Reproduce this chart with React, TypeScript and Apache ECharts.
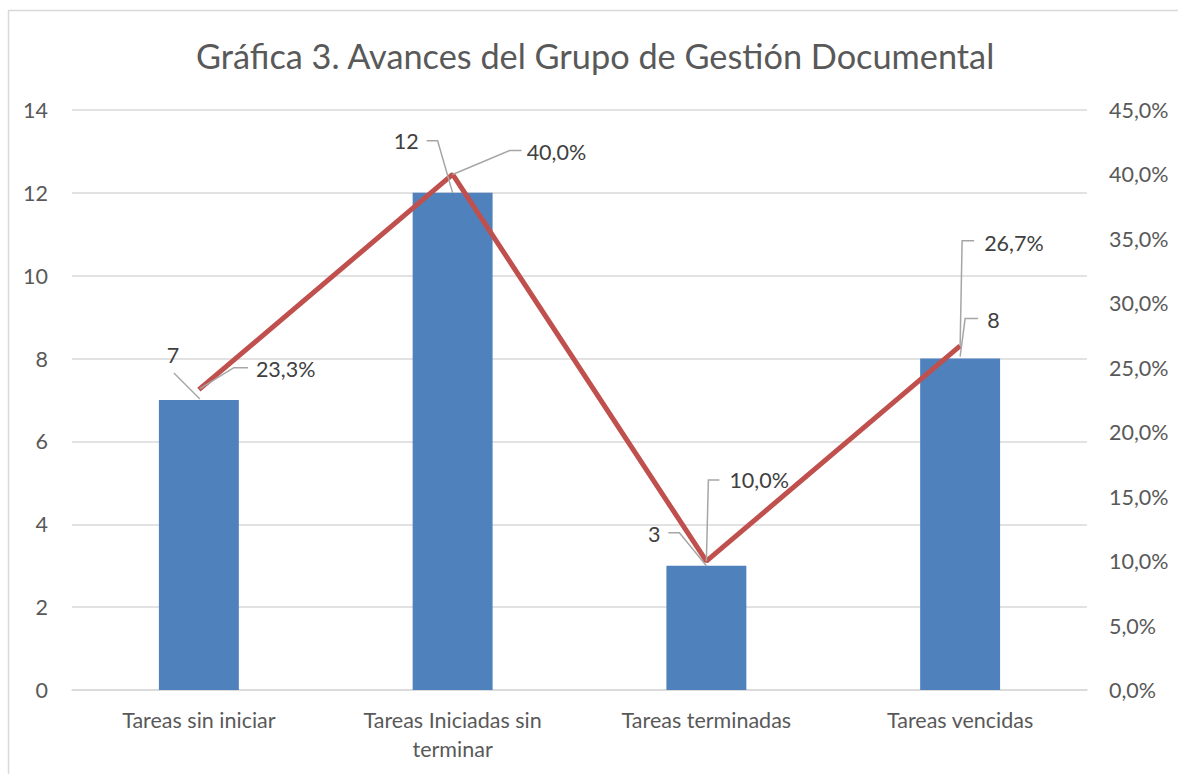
import React, { useEffect, useRef } from "react";
import * as echarts from "echarts";

const categories = [
  "Tareas sin iniciar",
  "Tareas Iniciadas sin\nterminar",
  "Tareas terminadas",
  "Tareas vencidas",
];
const taskCounts = [7, 12, 3, 8];
const taskShares = [23.3, 40.0, 10.0, 26.7];
const countTicks = { min: 0, max: 14, interval: 2 };
const shareTicks = { min: 0, max: 45, interval: 5 };
const titleText = "Gráfica 3. Avances del Grupo de Gestión Documental";

const FONT = "Lato, 'Open Sans', sans-serif";
const LABEL_SIZE = 21.5;
const fmtPct = (v: number) => v.toFixed(1).replace(".", ",") + "%";

// label placement relative to each mark's anchor (styling only)
const barLabelLayout = [
  { tx: -26, ty: -45, align: "center", pts: [[1, -1], [-25, -27]] },
  { tx: -34, ty: -52, align: "right", pts: [[0, 0], [-15, -52], [-26, -52]] },
  { tx: -46, ty: -32, align: "right", pts: [[0, 0], [-27, -33], [-38, -33]] },
  { tx: 27, ty: -39, align: "left", pts: [[0, -2], [5, -40], [18, -40]] },
];
const lineLabelLayout = [
  { tx: 57, ty: -21, align: "left", pts: [[1, -1], [35, -22], [49, -22]] },
  { tx: 74, ty: -22, align: "left", pts: [[0, 0], [57, -24], [69, -24]] },
  { tx: 23, ty: -81, align: "left", pts: [[0, 0], [2, -81], [13, -81]] },
  { tx: 24, ty: -103, align: "left", pts: [[0, 0], [2, -105], [14, -105]] },
];

export default function App() {
  const ref = useRef<HTMLDivElement>(null);
  useEffect(() => {
    if (!ref.current) return;
    const chart = echarts.init(ref.current, null, { renderer: "svg" });
    chart.setOption({
      animation: false,
      backgroundColor: "#ffffff",
      title: {
        text: titleText,
        left: 191,
        top: 33,
        textStyle: { fontFamily: FONT, fontSize: 34.3, fontWeight: "normal", color: "#595959" },
      },
      grid: { left: 72, right: 91, top: 110, bottom: 84, containLabel: false },
      xAxis: {
        type: "category",
        data: categories,
        axisLine: { show: true, lineStyle: { color: "#d9d9d9", width: 1.5 } },
        axisTick: { show: false },
        axisLabel: {
          color: "#595959",
          fontFamily: FONT,
          fontSize: LABEL_SIZE,
          margin: 15,
          lineHeight: 29,
          interval: 0,
        },
      },
      yAxis: [
        {
          type: "value",
          ...countTicks,
          axisLine: { show: false },
          axisTick: { show: false },
          splitLine: { lineStyle: { color: "#d9d9d9", width: 1.5 } },
          axisLabel: { color: "#595959", fontFamily: FONT, fontSize: LABEL_SIZE, margin: 24 },
        },
        {
          type: "value",
          ...shareTicks,
          position: "right",
          axisLine: { show: false },
          axisTick: { show: false },
          splitLine: { show: false },
          axisLabel: {
            color: "#595959",
            fontFamily: FONT,
            fontSize: LABEL_SIZE,
            margin: 22,
            formatter: (v: number) => fmtPct(v),
          },
        },
      ],
      series: [
        {
          type: "bar",
          data: taskCounts,
          barWidth: "31.5%",
          itemStyle: { color: "#4F81BD" },
          yAxisIndex: 0,
        },
        {
          type: "line",
          data: taskShares,
          yAxisIndex: 1,
          symbol: "none",
          lineStyle: { color: "#C0504D", width: 5 },
          z: 3,
        },
      ],
    });

    const graphics: any[] = [
      {
        type: "rect",
        shape: { x: 8.5, y: 10.5, width: 1300, height: 900 },
        style: { fill: "none", stroke: "#d9d9d9", lineWidth: 1.5 },
        silent: true,
        z: -10,
      },
    ];
    const addLabels = (values: number[], seriesIndex: number, layout: any[], fmt: (v: number) => string) => {
      values.forEach((v, i) => {
        const p = chart.convertToPixel({ seriesIndex }, [i, v]) as number[];
        const L = layout[i];
        graphics.push({
          type: "polyline",
          shape: { points: L.pts.map((q: number[]) => [p[0] + q[0], p[1] + q[1]]) },
          style: { stroke: "#a6a6a6", lineWidth: 1.5, fill: "none" },
          z: 10,
        });
        graphics.push({
          type: "text",
          x: p[0] + L.tx,
          y: p[1] + L.ty,
          style: {
            text: fmt(v),
            fontFamily: FONT,
            fontSize: LABEL_SIZE,
            fill: "#404040",
            align: L.align,
            verticalAlign: "middle",
          },
          z: 11,
        });
      });
    };
    addLabels(taskCounts, 0, barLabelLayout, (v) => String(v));
    addLabels(taskShares, 1, lineLabelLayout, fmtPct);
    chart.setOption({ graphic: graphics });

    return () => chart.dispose();
  }, []);
  return (
    <div
      ref={ref}
      style={{ position: "absolute", left: 0, top: 0, width: 1178, height: 774 }}
    />
  );
}
